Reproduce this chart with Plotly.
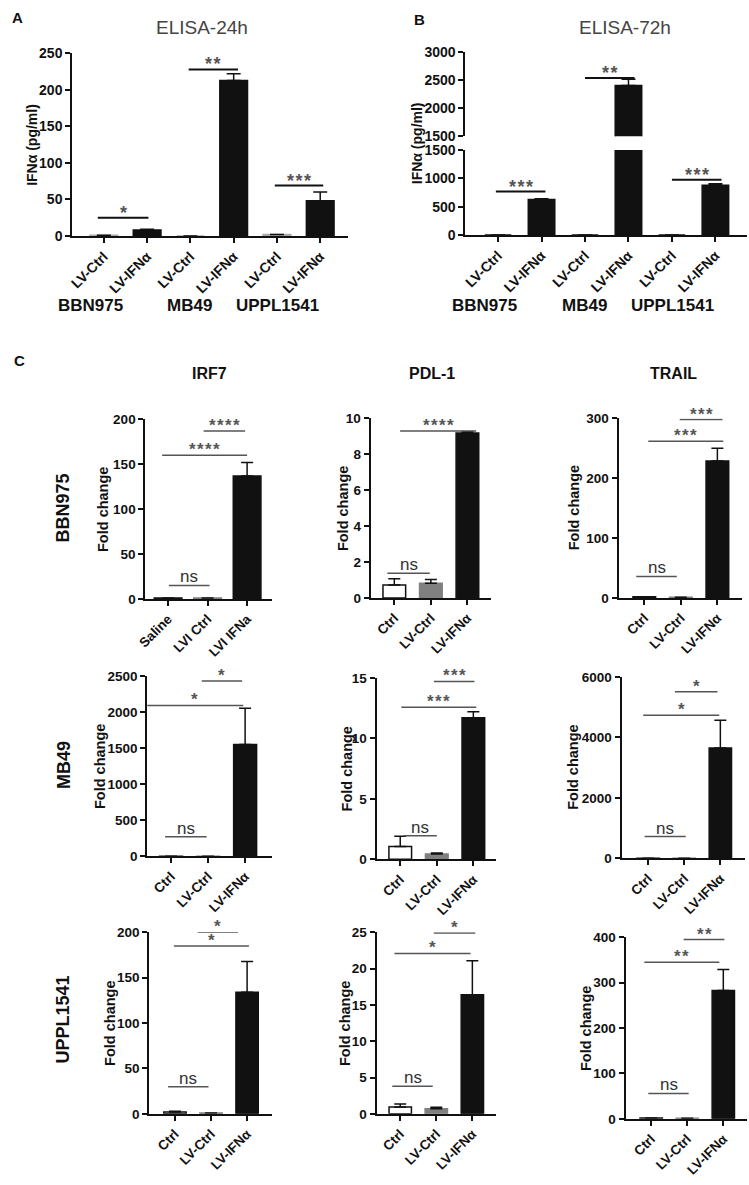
import plotly.graph_objects as go

W, H = 749, 1185
FONT = "Arial, Liberation Sans, sans-serif"

# ---------------- data ----------------
ab_labels = ["LV-Ctrl", "LV-IFNα", "LV-Ctrl", "LV-IFNα", "LV-Ctrl", "LV-IFNα"]
ab_groups = ["BBN975", "MB49", "UPPL1541"]

elisa24_vals = [1, 8, 0, 213, 2, 48]
elisa24_err = [0, 1, 0, 9, 0, 12]
elisa24_sig_x0 = [-0.14, 1.96, 3.95]
elisa24_sig_x1 = [1.03, 3.10, 5.07]
elisa24_sig_y = [25, 228, 69]
elisa24_sig_txt = ["*", "**", "***"]

elisa72_vals = [0, 625, 0, 2410, 0, 880]
elisa72_err = [0, 15, 0, 110, 0, 25]
elisa72_sig_x0 = [-0.05, 2.00, 4.00]
elisa72_sig_x1 = [1.09, 3.14, 5.14]
elisa72_sig_y = [766, 2540, 975]
elisa72_sig_txt = ["***", "**", "***"]

genes = ["IRF7", "PDL-1", "TRAIL"]
cell_lines = ["BBN975", "MB49", "UPPL1541"]
labels_saline = ["Saline", "LVI Ctrl", "LVI IFNa"]
labels_lv = ["Ctrl", "LV-Ctrl", "LV-IFNα"]

irf7_bbn = [1, 1, 137];         irf7_bbn_err = [0, 0, 15]
pdl1_bbn = [0.72, 0.82, 9.18];  pdl1_bbn_err = [0.35, 0.2, 0.07]
trail_bbn = [2, 1, 229];        trail_bbn_err = [0, 0, 21]
irf7_mb49 = [1, 1, 1550];       irf7_mb49_err = [0, 0, 500]
pdl1_mb49 = [1.06, 0.45, 11.7]; pdl1_mb49_err = [0.85, 0.08, 0.5]
trail_mb49 = [1, 1, 3650];      trail_mb49_err = [0, 0, 920]
irf7_uppl = [2, 1, 134];        irf7_uppl_err = [1, 0, 34]
pdl1_uppl = [0.95, 0.7, 16.4];  pdl1_uppl_err = [0.4, 0.2, 4.7]
trail_uppl = [2, 1, 283];       trail_uppl_err = [0, 0, 46]

# significance brackets: ns line, lower line, upper line  -> (x0, x1, y)
irf7_bbn_sig = [(0.02, 1.05, 15), (-0.15, 2.0, 160), (0.9, 1.95, 187)]
pdl1_bbn_sig = [(-0.19, 0.97, 1.37), (0.16, 2.24, 9.3), (1.1, 2.2, 10.4)]
trail_bbn_sig = [(-0.22, 0.89, 36), (0.11, 2.16, 262), (0.97, 2.14, 298)]
irf7_mb49_sig = [(-0.16, 0.96, 273), (-0.69, 1.95, 2090), (0.83, 1.92, 2430)]
pdl1_mb49_sig = [(0.1, 1.0, 1.96), (0.03, 2.08, 12.56), (0.92, 2.03, 14.7)]
trail_mb49_sig = [(-0.1, 1.04, 720), (-0.14, 1.97, 4730), (0.74, 1.92, 5510)]
irf7_uppl_sig = [(-0.19, 0.93, 30), (-0.03, 2.05, 185), (0.63, 1.75, 200)]
pdl1_uppl_sig = [(-0.22, 0.9, 3.8), (-0.16, 1.95, 22.1), (0.93, 2.08, 24.9)]
trail_uppl_sig = [(-0.08, 1.04, 56), (-0.19, 1.89, 345), (0.9, 2.03, 395)]
sig_text_bbn = ["ns", "****", "****"]
sig_text_bbn_trail = ["ns", "***", "***"]
sig_text_mb49_pdl1 = ["ns", "***", "***"]
sig_text_star1 = ["ns", "*", "*"]
sig_text_star2 = ["ns", "**", "**"]

# ---------------- helpers ----------------
def fx(p):
    return p / W

def fy(p):
    return 1 - p / H

layout = {}
annotations = []
shapes = []
traces = []

def axkey(kind, n):
    return f"{kind}axis" + ("" if n == 1 else str(n))

def axref(kind, n):
    return kind + ("" if n == 1 else str(n))

def make_x(n, yn, xl, xr, t0, s, ticktext, fsize):
    layout[axkey("x", n)] = dict(
        domain=[fx(xl), fx(xr)], range=[(xl - t0) / s, (xr - t0) / s],
        anchor=axref("y", yn), tickmode="array",
        tickvals=list(range(len(ticktext))), ticktext=ticktext,
        tickangle=-45, ticks="outside", ticklen=5, tickwidth=2, tickcolor="#111",
        showline=True, linewidth=2, linecolor="#111", showgrid=False,
        zeroline=False, fixedrange=True,
        tickfont=dict(family=FONT, size=fsize, color="#111", weight="bold"))

def make_y(n, xn, yt, yb, rng, dtick, fsize):
    layout[axkey("y", n)] = dict(
        domain=[fy(yb), fy(yt)], range=[rng[0], rng[1] * 1.0001],
        anchor=axref("x", xn), tickmode="linear", tick0=rng[0], dtick=dtick,
        ticks="outside", ticklen=5, tickwidth=2, tickcolor="#111",
        showline=True, linewidth=2, linecolor="#111", showgrid=False,
        zeroline=False, fixedrange=True,
        tickfont=dict(family=FONT, size=fsize, color="#111", weight="bold"))

def add_bars(xn, yn, vals, errs, width, colors, lcolors, capw):
    traces.append(go.Bar(
        x=list(range(len(vals))), y=vals, width=width,
        marker=dict(color=colors, line=dict(color=lcolors, width=1.5)),
        error_y=dict(type="data", symmetric=False, array=errs,
                     arrayminus=[0] * len(errs), color="#111",
                     thickness=1.5, width=capw),
        xaxis=axref("x", xn), yaxis=axref("y", yn),
        showlegend=False, hoverinfo="skip"))

def star_text(t):
    if t == "ns":
        return t
    return "\u200a".join(list(t))

def add_sig(xn, yn, x0, x1, y, txt, lcolor, lw, sfont, yshift):
    shapes.append(dict(type="line", xref=axref("x", xn), yref=axref("y", yn),
                       x0=x0, x1=x1, y0=y, y1=y,
                       line=dict(color=lcolor, width=lw)))
    if txt == "ns":
        font = dict(family=FONT, size=17, color="#333")
        ys = -3
    else:
        font = sfont
        ys = yshift
    annotations.append(dict(xref=axref("x", xn), yref=axref("y", yn),
                            x=(x0 + x1) / 2, y=y, text=star_text(txt),
                            showarrow=False, yanchor="bottom", xanchor="center",
                            yshift=ys, font=font))

def paper_text(x, y, text, size, bold=True, color="#111", angle=0):
    annotations.append(dict(xref="paper", yref="paper", x=fx(x), y=fy(y),
                            text=text, showarrow=False, textangle=angle,
                            xanchor="center", yanchor="middle",
                            font=dict(family=FONT, size=size, color=color,
                                      weight="bold" if bold else "normal")))

STAR_AB = dict(family=FONT, size=18, color="#555", weight="bold")
STAR_C = dict(family=FONT, size=17, color="#555", weight="bold")

# ---------------- Panel A ----------------
make_x(1, 1, 64, 343, 96, 43.8, ab_labels, 14)
make_y(1, 1, 46, 231, [0, 250], 50, 14)
add_bars(1, 1, elisa24_vals, elisa24_err, 0.64,
         ["white", "#111"] * 3, ["#aaa", "#111"] * 3, 7)
for x0, x1, y, t in zip(elisa24_sig_x0, elisa24_sig_x1, elisa24_sig_y, elisa24_sig_txt):
    add_sig(1, 1, x0, x1, y, t, "#111", 2, STAR_AB, -7)
paper_text(195, 20, "ELISA-24h", 19, bold=False, color="#444")
paper_text(9, 10, "A", 15)
paper_text(23, 139, "IFNα (pg/ml)", 14, angle=-90)
for name, cx in zip(ab_groups, [82, 183, 272]):
    paper_text(cx, 302, name, 17)

# ---------------- Panel B (broken axis) ----------------
make_x(2, 2, 462, 747, 495, 44, ab_labels, 14)
make_y(2, 2, 144, 230, [0, 1500], 500, 14)
make_y(3, 2, 45, 130, [1500, 3000], 500, 14)
layout["yaxis3"]["range"] = [1500, 3000.3]
add_bars(2, 2, elisa72_vals, elisa72_err, 0.61,
         ["white", "#111"] * 3, ["#111", "#111"] * 3, 7)
add_bars(2, 3, elisa72_vals, elisa72_err, 0.61,
         ["white", "#111"] * 3, ["#111", "#111"] * 3, 7)
for x0, x1, y, t in zip(elisa72_sig_x0, elisa72_sig_x1, elisa72_sig_y, elisa72_sig_txt):
    yn = 3 if y > 1500 else 2
    add_sig(2, yn, x0, x1, y, t, "#111", 2, STAR_AB, -7)
paper_text(623, 20, "ELISA-72h", 19, bold=False, color="#444")
paper_text(415, 12, "B", 15)
paper_text(413, 137, "IFNα (pg/ml)", 14, angle=-90)
for name, cx in zip(ab_groups, [481, 582, 672]):
    paper_text(cx, 302, name, 17)

# ---------------- Panel C ----------------
paper_text(11, 357, "C", 15)
for g, cx in zip(genes, [203, 428, 673]):
    paper_text(cx, 371, g, 16)
for c, cy in zip(cell_lines, [507, 767, 1025]):
    paper_text(55, cy, c, 18, angle=-90)

c_colors = ["white", "#808080", "#111"]
c_lcolors = ["#111", "#808080", "#111"]

# (values, errors, labels, sig, sig texts, range, dtick,
#  xl, xr, yt, yb, t0, spacing, barwidth, ytitle_x)
c_panels = [
    (irf7_bbn, irf7_bbn_err, labels_saline, irf7_bbn_sig, sig_text_bbn, [0, 200], 50,
     138, 266, 417, 599, 161, 40, 0.70, 95),
    (pdl1_bbn, pdl1_bbn_err, labels_lv, pdl1_bbn_sig, sig_text_bbn, [0, 10], 2,
     366, 488, 416, 598, 390, 37, 0.62, 338),
    (trail_bbn, trail_bbn_err, labels_lv, trail_bbn_sig, sig_text_bbn_trail, [0, 300], 100,
     617, 742, 416, 598, 643, 37, 0.62, 572),
    (irf7_mb49, irf7_mb49_err, labels_lv, irf7_mb49_sig, sig_text_star1, [0, 2500], 500,
     140, 266, 677, 860, 164, 37.5, 0.62, 92),
    (pdl1_mb49, pdl1_mb49_err, labels_lv, pdl1_mb49_sig, sig_text_mb49_pdl1, [0, 15], 5,
     372, 493, 679, 863, 396, 37, 0.62, 342),
    (trail_mb49, trail_mb49_err, labels_lv, trail_mb49_sig, sig_text_star1, [0, 6000], 2000,
     620, 745, 678, 862, 647, 36.5, 0.62, 570),
    (irf7_uppl, irf7_uppl_err, labels_lv, irf7_uppl_sig, sig_text_star1, [0, 200], 50,
     142, 266, 937, 1121, 168, 36.5, 0.62, 102),
    (pdl1_uppl, pdl1_uppl_err, labels_lv, pdl1_uppl_sig, sig_text_star1, [0, 25], 5,
     372, 493, 937, 1121, 396, 36.5, 0.62, 340),
    (trail_uppl, trail_uppl_err, labels_lv, trail_uppl_sig, sig_text_star2, [0, 400], 100,
     624, 747, 942, 1126, 650, 36.5, 0.62, 584),
]

for i, p in enumerate(c_panels):
    (vals, errs, labs, sig, stxt, rng, dt, xl, xr, yt, yb, t0, s, bw, ytx) = p
    xn = 3 + i
    yn = 4 + i
    make_x(xn, yn, xl, xr, t0, s, labs, 13.5)
    make_y(yn, xn, yt, yb, rng, dt, 13.5)
    add_bars(xn, yn, vals, errs, bw, c_colors, c_lcolors, 6)
    for (x0, x1, y), t in zip(sig, stxt):
        add_sig(xn, yn, x0, x1, y, t, "#555", 1.5, STAR_C, -6)
    paper_text(ytx, (yt + yb) / 2, "Fold change", 14.5, angle=-90)

fig = go.Figure(data=traces)
fig.update_layout(**layout)
fig.update_layout(
    width=W, height=H, autosize=False,
    margin=dict(l=0, r=0, t=0, b=0),
    paper_bgcolor="white", plot_bgcolor="white",
    showlegend=False, bargap=0,
    annotations=annotations, shapes=shapes,
    font=dict(family=FONT, color="#111"),
)
fig.write_html(
    "out.html",
    config={"displayModeBar": False, "staticPlot": True},
    post_script=("document.body.style.margin='0px';"
                 "document.body.style.padding='0px';"
                 "document.body.style.overflow='hidden';"),
)
